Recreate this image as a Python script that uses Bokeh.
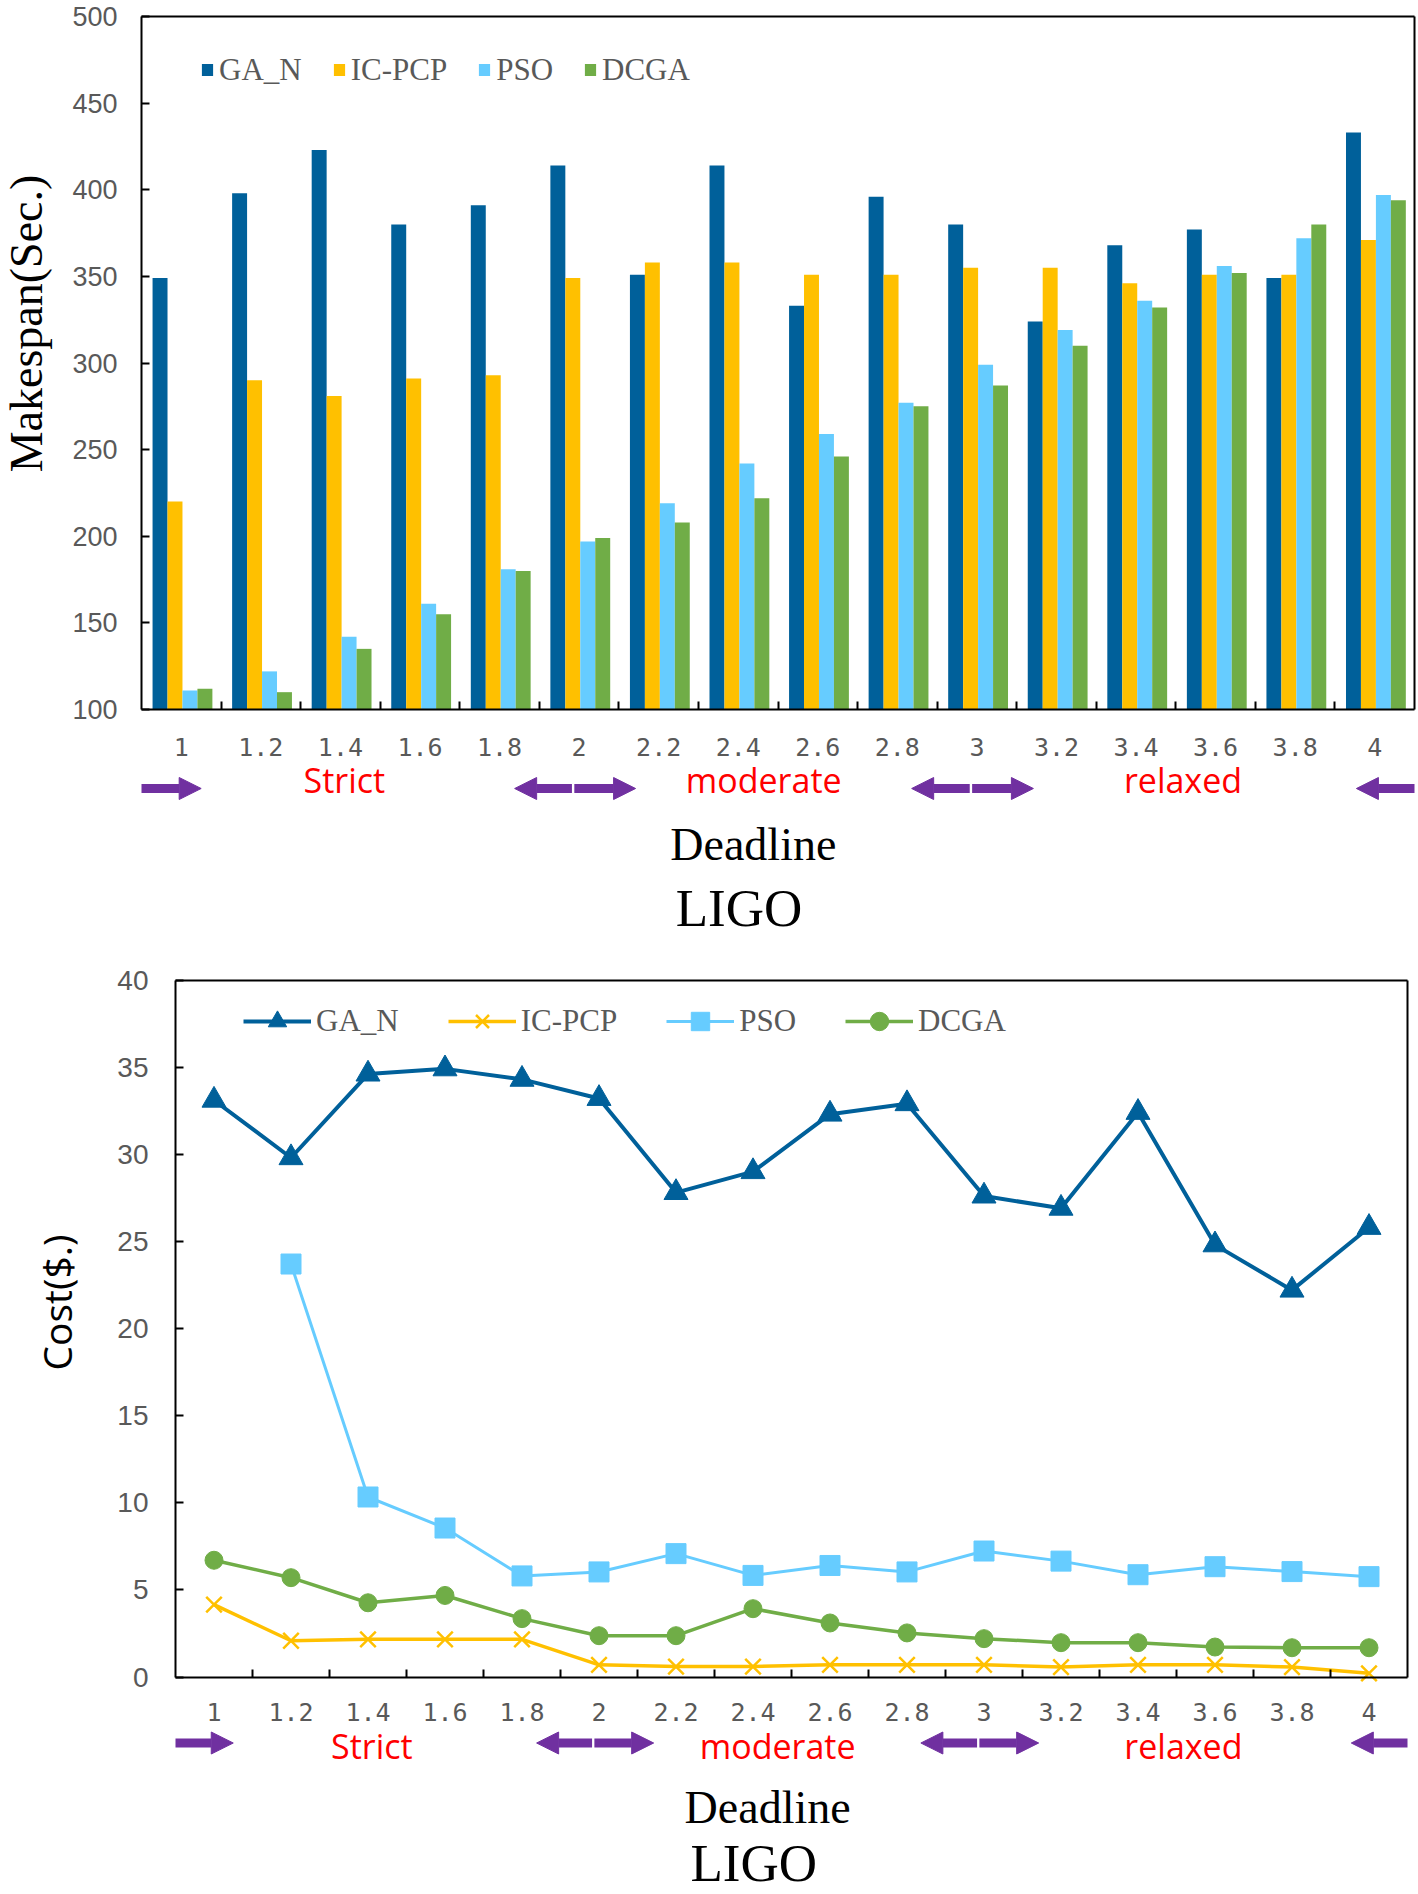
import math
from bokeh.plotting import figure
from bokeh.models import (ColumnDataSource, Range1d, LinearAxis, FixedTicker,
                          SingleIntervalTicker, Legend, LegendItem, Arrow, NormalHead)
from bokeh.transform import dodge
from bokeh.layouts import column
from bokeh.core.properties import value
from bokeh.embed import file_html
from bokeh.resources import INLINE

# ---------------- data ----------------
deadlines = ["1", "1.2", "1.4", "1.6", "1.8", "2", "2.2", "2.4",
             "2.6", "2.8", "3", "3.2", "3.4", "3.6", "3.8", "4"]
series_names = ["GA_N", "IC-PCP", "PSO", "DCGA"]

makespan_ga_n = [349, 398, 423, 380, 391, 414, 351, 414, 333, 396, 380, 324, 368, 377, 349, 433]
makespan_icpcp = [220, 290, 281, 291, 293, 349, 358, 358, 351, 351, 355, 355, 346, 351, 351, 371]
makespan_pso = [111, 122, 142, 161, 181, 197, 219, 242, 259, 277, 299, 319, 336, 356, 372, 397]
makespan_dcga = [112, 110, 135, 155, 180, 199, 208, 222, 246, 275, 287, 310, 332, 352, 380, 394]

nan = float("nan")
cost_ga_n = [33.1, 29.8, 34.6, 34.9, 34.3, 33.2, 27.8, 29.0, 32.3, 32.9, 27.6, 26.9, 32.4, 24.8, 22.2, 25.8]
cost_icpcp = [4.15, 2.08, 2.16, 2.16, 2.16, 0.70, 0.60, 0.60, 0.70, 0.70, 0.70, 0.57, 0.70, 0.70, 0.57, 0.21]
cost_pso = [nan, 23.7, 10.33, 8.55, 5.8, 6.03, 7.08, 5.83, 6.4, 6.03, 7.23, 6.65, 5.87, 6.33, 6.05, 5.76]
cost_dcga = [6.7, 5.7, 4.26, 4.68, 3.35, 2.37, 2.37, 3.92, 3.1, 2.53, 2.2, 1.97, 1.97, 1.72, 1.68, 1.68]

zone_labels = ["Strict", "moderate", "relaxed"]
zone_centers = [2.55, 7.82, 13.09]           # in deadline-slot units
arrow_starts = [0.0, 5.41, 5.44, 10.41, 10.44, 16.0]
arrow_ends = [0.75, 4.69, 6.21, 9.68, 11.21, 15.27]

# ---------------- styles ----------------
COLORS = ["#00609A", "#FFC000", "#66CCFF", "#70AD47"]
PURPLE = "#7030A0"
GRAY = "#595959"
W = 1416
N = len(deadlines)
slot = [i + 0.5 for i in range(N)]           # centre of each deadline slot
bounds = list(range(1, N))                   # slot boundaries (tick marks)
keys = ["ga_n", "icpcp", "pso", "dcga"]


def make_chart(H, fl, fr, ft, fb, vtop, vbot, interval, ylab_size, y_standoff, x_standoff):
    """One canvas per chart: the plot box sits at pixels fl..fr / ft..fb,
    the axes are pinned to the box with fixed_location, the space around is free for text."""
    spx = (fr - fl) / N
    vpx = (fb - ft) / (vtop - vbot)
    p = figure(width=W, height=H,
               x_range=Range1d(-fl / spx, N + (W - fr) / spx),
               y_range=Range1d(vbot - (H - fb) / vpx, vtop + ft / vpx),
               min_border_left=0, min_border_right=0, min_border_top=0, min_border_bottom=0,
               outline_line_color=None, toolbar_location=None, output_backend="svg")
    p.extra_x_ranges = {"px": Range1d(0, W)}
    p.extra_y_ranges = {"px": Range1d(H, 0)}
    p.xgrid.visible = False
    p.ygrid.visible = False
    p.background_fill_color = "white"
    p.border_fill_color = "white"

    ya = p.yaxis[0]
    ya.fixed_location = 0
    ya.bounds = (vbot, vtop)
    ya.ticker = SingleIntervalTicker(interval=interval, num_minor_ticks=0)
    ya.major_tick_in = 8
    ya.major_tick_out = 0
    ya.major_tick_line_width = 2
    ya.major_tick_line_color = "black"
    ya.minor_tick_line_color = None
    ya.axis_line_width = 2
    ya.axis_line_color = "black"
    ya.major_label_standoff = y_standoff
    ya.major_label_text_font = "Liberation Sans"
    ya.major_label_text_font_size = ylab_size
    ya.major_label_text_color = GRAY

    xa = p.xaxis[0]
    xa.fixed_location = vbot
    xa.bounds = (0, N)
    xa.ticker = FixedTicker(ticks=slot, minor_ticks=bounds)
    xa.major_label_overrides = {s: d for s, d in zip(slot, deadlines)}
    xa.major_tick_in = 0
    xa.major_tick_out = 0
    xa.minor_tick_in = 8
    xa.minor_tick_out = 0
    xa.minor_tick_line_width = 2
    xa.minor_tick_line_color = "black"
    xa.axis_line_width = 2
    xa.axis_line_color = "black"
    xa.major_label_standoff = x_standoff
    xa.major_label_text_font = "DejaVu Sans Mono"
    xa.major_label_text_font_size = "25px"
    xa.major_label_text_color = GRAY

    # top and right sides of the plot box
    top_ax = LinearAxis(fixed_location=vtop, bounds=(0, N), ticker=FixedTicker(ticks=[]),
                        axis_line_width=2, axis_line_color="black",
                        major_tick_line_color=None, minor_tick_line_color=None,
                        major_label_text_font_size="0px")
    right_ax = LinearAxis(fixed_location=N, bounds=(vbot, vtop), ticker=FixedTicker(ticks=[]),
                          axis_line_width=2, axis_line_color="black",
                          major_tick_line_color=None, minor_tick_line_color=None,
                          major_label_text_font_size="0px")
    p.add_layout(top_ax, "above")
    p.add_layout(right_ax, "right")
    return p


def add_notes(p, zone_y, arrow_y, dl_y, ligo_y):
    p.text(x=zone_centers, y=[zone_y] * len(zone_labels), text=zone_labels, y_range_name="px",
           text_font=value("Open Sans"), text_font_size="34px", text_color="#FF0000",
           text_align="center", text_baseline="middle")
    for xs, xe in zip(arrow_starts, arrow_ends):
        p.add_layout(Arrow(x_start=xs, y_start=arrow_y, x_end=xe, y_end=arrow_y, y_range_name="px",
                           line_color=PURPLE, line_width=9,
                           end=NormalHead(size=22, fill_color=PURPLE, line_color=PURPLE, line_width=1)))
    p.text(x=[7.69], y=[dl_y], text=["Deadline"], y_range_name="px",
           text_font=value("Liberation Serif"), text_font_size="46px", text_color="black",
           text_align="center", text_baseline="middle")
    p.text(x=[7.51], y=[ligo_y], text=["LIGO"], y_range_name="px",
           text_font=value("Liberation Serif"), text_font_size="53px", text_color="black",
           text_align="center", text_baseline="middle")


# ---------------- top: makespan bars ----------------
H1 = 950
src1 = ColumnDataSource(dict(slot=slot, deadline=deadlines, ga_n=makespan_ga_n, icpcp=makespan_icpcp,
                             pso=makespan_pso, dcga=makespan_dcga))
p1 = make_chart(H1, 141, 1414, 16, 709, 500, 100, 50, "27px", 24, 28)

bw = 0.188
items1 = []
for i, (k, name, col) in enumerate(zip(keys, series_names, COLORS)):
    off = (i - 1.5) * bw + 0.015
    r = p1.vbar(x=dodge("slot", off), top=k, bottom=100, width=bw,
                source=src1, fill_color=col, line_color=None)
    items1.append(LegendItem(label=name, renderers=[r]))

leg1 = Legend(items=items1, orientation="horizontal", location=(200, H1 - 69.5 - 18),
              glyph_width=14, glyph_height=15, label_standoff=5, spacing=30,
              padding=0, margin=0, border_line_color=None, background_fill_alpha=0,
              label_text_font="Liberation Serif", label_text_font_size="31px",
              label_text_color=GRAY)
p1.add_layout(leg1, "center")
p1.text(x=[26], y=[323], text=["Makespan(Sec.)"], x_range_name="px", y_range_name="px",
        angle=math.pi / 2, text_font=value("Liberation Serif"), text_font_size="46px",
        text_color="black", text_align="center", text_baseline="middle")
add_notes(p1, 779, 788, 843.5, 907.5)

# ---------------- bottom: cost lines ----------------
H2 = 943
src2 = ColumnDataSource(dict(slot=slot, deadline=deadlines, ga_n=cost_ga_n, icpcp=cost_icpcp,
                             pso=cost_pso, dcga=cost_dcga))
p2 = make_chart(H2, 175, 1407, 29.5, 726.5, 40, 0, 5, "28px", 27, 26)

markers = ["triangle", "x", "square", "circle"]
msizes = [24, 22, 20, 18]
lwidths = [4, 3.5, 3, 3.5]
items2 = []
for k, name, col, m, ms, lw in zip(keys, series_names, COLORS, markers, msizes, lwidths):
    ln = p2.line(x="slot", y=k, source=src2, line_color=col, line_width=lw)
    sc = p2.scatter(x="slot", y=k, source=src2, marker=m, size=ms,
                    fill_color=col, line_color=col, line_width=2.5 if m == "x" else 1)
    items2.append(LegendItem(label=name, renderers=[ln, sc]))

leg2 = Legend(items=items2, orientation="horizontal", location=(243, H2 - 70.7 - 23),
              glyph_width=68, glyph_height=46, label_standoff=5, spacing=49,
              padding=0, margin=0, border_line_color=None, background_fill_alpha=0,
              label_text_font="Liberation Serif", label_text_font_size="31px",
              label_text_color=GRAY)
p2.add_layout(leg2, "center")
p2.text(x=[56], y=[352], text=["Cost($.)"], x_range_name="px", y_range_name="px",
        angle=math.pi / 2, text_font=value("Open Sans"), text_font_size="39px",
        text_color="black", text_align="center", text_baseline="middle")
add_notes(p2, 795.5, 792.5, 857, 912)

layout = column(p1, p2, spacing=0)
open("out.html", "w").write(file_html(layout, INLINE))
